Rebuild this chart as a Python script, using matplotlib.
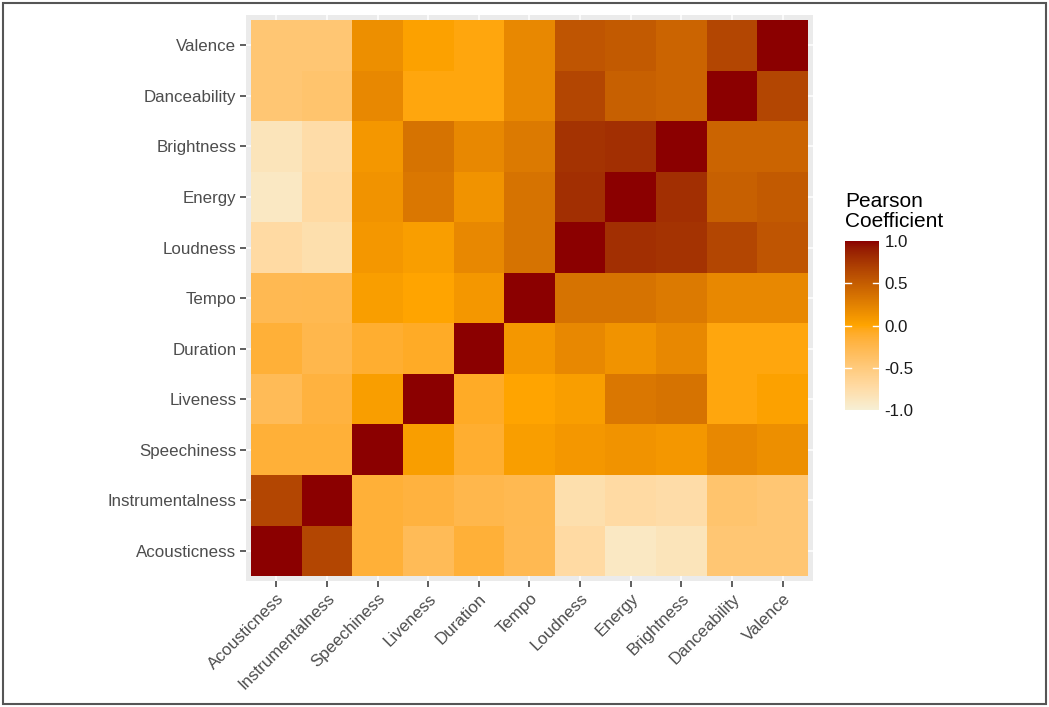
import numpy as np
import matplotlib
matplotlib.use("Agg")
import matplotlib.pyplot as plt
from matplotlib.colors import ListedColormap, to_rgb
from matplotlib.patches import Rectangle

labels = ["Acousticness", "Instrumentalness", "Speechiness", "Liveness", "Duration",
          "Tempo", "Loudness", "Energy", "Brightness", "Danceability", "Valence"]

# rows in label order; columns in label order
acousticness     = [1.00, 0.65, -0.15, -0.30, -0.15, -0.28, -0.72, -0.90, -0.85, -0.45, -0.45]
instrumentalness = [0.65, 1.00, -0.15, -0.18, -0.25, -0.27, -0.78, -0.72, -0.75, -0.42, -0.45]
speechiness      = [-0.15, -0.15, 1.00, 0.05, -0.12, 0.05, 0.10, 0.12, 0.10, 0.20, 0.15]
liveness         = [-0.30, -0.18, 0.05, 1.00, -0.08, 0.00, 0.05, 0.32, 0.35, -0.02, 0.03]
duration         = [-0.15, -0.25, -0.12, -0.08, 1.00, 0.10, 0.20, 0.12, 0.20, -0.02, -0.02]
tempo            = [-0.28, -0.27, 0.05, 0.00, 0.10, 1.00, 0.35, 0.35, 0.30, 0.20, 0.20]
loudness         = [-0.72, -0.78, 0.10, 0.05, 0.20, 0.35, 1.00, 0.80, 0.78, 0.65, 0.55]
energy           = [-0.90, -0.72, 0.12, 0.32, 0.12, 0.35, 0.80, 1.00, 0.80, 0.48, 0.52]
brightness       = [-0.85, -0.75, 0.10, 0.35, 0.20, 0.30, 0.78, 0.80, 1.00, 0.45, 0.45]
danceability     = [-0.45, -0.42, 0.20, -0.02, -0.02, 0.20, 0.65, 0.48, 0.45, 1.00, 0.65]
valence          = [-0.45, -0.45, 0.15, 0.03, -0.02, 0.20, 0.55, 0.52, 0.45, 0.65, 1.00]

colorbar_ticks = [-1.0, -0.5, 0.0, 0.5, 1.0]

M = np.array([acousticness, instrumentalness, speechiness, liveness, duration,
              tempo, loudness, energy, brightness, danceability, valence])

# ---- Lab-interpolated diverging gradient (like ggplot scale_fill_gradient2) ----
def srgb_to_lab(c):
    c = np.asarray(c, float)
    lin = np.where(c <= 0.04045, c / 12.92, ((c + 0.055) / 1.055) ** 2.4)
    Mx = np.array([[0.4124, 0.3576, 0.1805],
                   [0.2126, 0.7152, 0.0722],
                   [0.0193, 0.1192, 0.9505]])
    xyz = Mx @ lin
    wp = np.array([0.95047, 1.0, 1.08883])
    t = xyz / wp
    f = np.where(t > (6/29) ** 3, np.cbrt(t), t / (3 * (6/29) ** 2) + 4/29)
    return np.array([116 * f[1] - 16, 500 * (f[0] - f[1]), 200 * (f[1] - f[2])])

def lab_to_srgb(lab):
    L, a, b = lab
    fy = (L + 16) / 116
    fx = fy + a / 500
    fz = fy - b / 200
    def finv(f):
        return np.where(f > 6/29, f ** 3, 3 * (6/29) ** 2 * (f - 4/29))
    wp = np.array([0.95047, 1.0, 1.08883])
    xyz = np.array([finv(fx), finv(fy), finv(fz)]) * wp
    Minv = np.array([[3.2406, -1.5372, -0.4986],
                     [-0.9689, 1.8758, 0.0415],
                     [0.0557, -0.2040, 1.0570]])
    lin = Minv @ xyz
    lin = np.clip(lin, 0, 1)
    c = np.where(lin <= 0.0031308, 12.92 * lin, 1.055 * lin ** (1 / 2.4) - 0.055)
    return np.clip(c, 0, 1)

low, mid, high = srgb_to_lab(to_rgb("#F6EFD4")), srgb_to_lab(to_rgb("#FFA500")), srgb_to_lab(to_rgb("#8B0000"))
cols = []
for t in np.linspace(-1, 1, 256):
    if t < 0:
        lab = mid + (low - mid) * (-t)
    else:
        lab = mid + (high - mid) * t
    cols.append(lab_to_srgb(lab))
cmap = ListedColormap(cols)

# ---- figure ----
fig = plt.figure(figsize=(10.49, 7.07), dpi=100)
fig.patch.set_facecolor("white")
plt.rcParams["font.family"] = ["Liberation Sans", "DejaVu Sans"]

ax = fig.add_axes([0.2345, 0.178, 0.5405, 0.8008])
ax.set_facecolor("#EBEBEB")
n = len(labels)
x = np.arange(n)
ax.set_xticks(x)
ax.set_yticks(x)
ax.grid(True, color="white", linewidth=1.1)
ax.set_axisbelow(True)
edges = np.arange(n + 1) - 0.5
mesh = ax.pcolormesh(edges, edges, M, cmap=cmap, vmin=-1, vmax=1, zorder=2)
ax.set_xlim(-0.6, n - 0.4)
ax.set_ylim(-0.6, n - 0.4)
for s in ax.spines.values():
    s.set_visible(False)
ax.set_xticklabels(labels, rotation=45, ha="right", va="top", rotation_mode="anchor",
                   fontsize=12.2, color="#4D4D4D")
ax.set_yticklabels(labels, fontsize=12.2, color="#4D4D4D")
ax.tick_params(axis="both", length=4, width=1.1, color="#333333", pad=3)

# colorbar
cax = fig.add_axes([0.8055, 0.42, 0.0324, 0.239])
cb = fig.colorbar(mesh, cax=cax, ticks=colorbar_ticks)
cb.outline.set_visible(False)
cb.ax.set_yticklabels([f"{v:.1f}" for v in colorbar_ticks], fontsize=12.2, color="#1A1A1A")
cb.ax.tick_params(length=0, pad=4)
for v in colorbar_ticks[1:-1]:
    cax.plot([0, 0.18], [v, v], color="white", lw=1, transform=cax.get_yaxis_transform())
    cax.plot([0.82, 1.0], [v, v], color="white", lw=1, transform=cax.get_yaxis_transform())
fig.text(0.8055, 0.673, "Pearson\nCoefficient", fontsize=15, ha="left", va="bottom",
         linespacing=1.05, color="black")

# outer border
fig.patches.append(Rectangle((0.003, 0.004), 0.994, 0.992, transform=fig.transFigure,
                             fill=False, edgecolor="#555555", linewidth=1.5))

fig.savefig("out.png", dpi=100)
